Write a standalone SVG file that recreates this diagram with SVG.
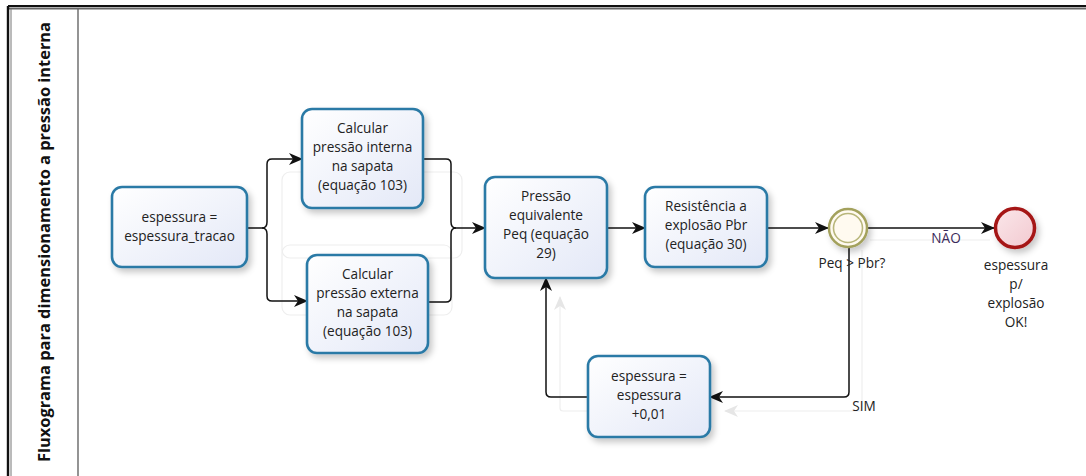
<svg xmlns="http://www.w3.org/2000/svg" width="1086" height="476" viewBox="0 0 1086 476">
  <defs>
    <linearGradient id="taskFill" x1="0" y1="0" x2="1" y2="1">
      <stop offset="0" stop-color="#ffffff"/>
      <stop offset="1" stop-color="#e3e8f7"/>
    </linearGradient>
    <linearGradient id="endFill" x1="0" y1="0" x2="1" y2="1">
      <stop offset="0" stop-color="#fbe7ea"/>
      <stop offset="1" stop-color="#f2c9d0"/>
    </linearGradient>
    <filter id="shadow" x="-20%" y="-20%" width="150%" height="150%">
      <feDropShadow dx="3" dy="4" stdDeviation="3" flood-color="#000" flood-opacity="0.22"/>
    </filter>
    <marker id="arrow" viewBox="0 0 14 12" refX="13" refY="6" markerWidth="14" markerHeight="12" markerUnits="userSpaceOnUse" orient="auto">
      <path d="M0,0 L14,6 L0,12 L4,6 Z" fill="#111"/>
    </marker>
    <marker id="ghostArrow" viewBox="0 0 14 12" refX="13" refY="6" markerWidth="14" markerHeight="12" markerUnits="userSpaceOnUse" orient="auto">
      <path d="M0,0 L14,6 L0,12 L4,6 Z" fill="#e6e6e6"/>
    </marker>
    <style>
      .task rect { fill: url(#taskFill); stroke: #2c7aa6; stroke-width: 2.6; filter: url(#shadow); }
      .lbl { font-family: "Open Sans", "Noto Sans", "DejaVu Sans", sans-serif; font-size: 13.6px; fill: #222; text-anchor: middle; }
      .flow { fill: none; stroke: #111; stroke-width: 1.5; }
      .ghost { fill: none; stroke: #eeeeee; stroke-width: 1.2; }
      .title { font-family: "Open Sans", "Noto Sans", "DejaVu Sans", sans-serif; font-size: 15.5px; font-weight: bold; fill: #111; text-anchor: middle; }
    </style>
  </defs>

  <rect width="1086" height="476" fill="#ffffff"/>

  <!-- pool frame and lane header -->
  <g id="pool">
    <line x1="8" y1="6" x2="1086" y2="6" stroke="#111" stroke-width="2"/>
    <line x1="8" y1="8.5" x2="1086" y2="8.5" stroke="#666" stroke-width="2"/>
    <line x1="8" y1="6" x2="8" y2="476" stroke="#111" stroke-width="2.4"/>
    <line x1="11" y1="9" x2="11" y2="476" stroke="#777" stroke-width="1"/>
    <line x1="78" y1="9" x2="78" y2="476" stroke="#666" stroke-width="1.4"/>
    <text class="title" transform="translate(50,242) rotate(-90)" textLength="440" lengthAdjust="spacingAndGlyphs">Fluxograma para dimensionamento a pressão interna</text>
  </g>

  <!-- faint background outlines -->
  <g id="ghosts">
    <rect x="282" y="172" width="180" height="86" rx="8" class="ghost"/>
    <rect x="282" y="245" width="170" height="70" rx="8" class="ghost"/>
    <path d="M862,250 V408 Q862,411 859,411 H725" class="ghost" marker-end="url(#ghostArrow)"/>
    <path d="M588,411 H563 Q560,411 560,408 V297" class="ghost" marker-end="url(#ghostArrow)"/>
    <line x1="870" y1="240" x2="990" y2="240" class="ghost"/>
  </g>

  <!-- sequence flows -->
  <g id="connectors">
    <path d="M247,228 H262 Q267,228 267,222 V164 Q267,159 272,159 H302" class="flow" marker-end="url(#arrow)"/>
    <path d="M262,228 Q267,228 267,234 V296 Q267,301 272,301 H307" class="flow" marker-end="url(#arrow)"/>
    <path d="M423,159 H446 Q451,159 451,164 V222 Q451,228 456,228 H485" class="flow" marker-end="url(#arrow)"/>
    <path d="M418,302 H446 Q451,302 451,297 V234 Q451,228 456,228" class="flow"/>
    <path d="M607,228 H645" class="flow" marker-end="url(#arrow)"/>
    <path d="M767,228 H828" class="flow" marker-end="url(#arrow)"/>
    <path d="M868,228 H994" class="flow" marker-end="url(#arrow)"/>
    <path d="M849,248 V392 Q849,397 844,397 H710" class="flow" marker-end="url(#arrow)"/>
    <path d="M588,397 H551 Q546,397 546,392 V278" class="flow" marker-end="url(#arrow)"/>
    <text class="lbl" x="946" y="243" style="fill:#3a2a5a">NÃO</text>
    <text class="lbl" x="864" y="411">SIM</text>
  </g>

  <g id="start-thickness" class="task">
    <rect x="112" y="187" width="135" height="80" rx="10"/>
    <text class="lbl" x="179.5" y="222">espessura =</text>
    <text class="lbl" x="179.5" y="241">espessura_tracao</text>
  </g>

  <g id="internal-pressure" class="task">
    <rect x="302" y="109" width="121" height="99" rx="10"/>
    <text class="lbl" x="362.5" y="133">Calcular</text>
    <text class="lbl" x="362.5" y="152">pressão interna</text>
    <text class="lbl" x="362.5" y="171">na sapata</text>
    <text class="lbl" x="362.5" y="190">(equação 103)</text>
  </g>

  <g id="external-pressure" class="task">
    <rect x="307" y="255" width="121" height="98" rx="10"/>
    <text class="lbl" x="367.5" y="279">Calcular</text>
    <text class="lbl" x="367.5" y="298">pressão externa</text>
    <text class="lbl" x="367.5" y="317">na sapata</text>
    <text class="lbl" x="367.5" y="336">(equação 103)</text>
  </g>

  <g id="equivalent-pressure" class="task">
    <rect x="485" y="177" width="122" height="101" rx="10"/>
    <text class="lbl" x="546" y="201">Pressão</text>
    <text class="lbl" x="546" y="220">equivalente</text>
    <text class="lbl" x="546" y="239">Peq (equação</text>
    <text class="lbl" x="546" y="258">29)</text>
  </g>

  <g id="burst-resistance" class="task">
    <rect x="645" y="187" width="122" height="80" rx="10"/>
    <text class="lbl" x="706" y="211">Resistência a</text>
    <text class="lbl" x="706" y="230">explosão Pbr</text>
    <text class="lbl" x="706" y="249">(equação 30)</text>
  </g>

  <g id="increment-thickness" class="task">
    <rect x="588" y="356" width="122" height="81" rx="10"/>
    <text class="lbl" x="649" y="381">espessura =</text>
    <text class="lbl" x="649" y="400">espessura</text>
    <text class="lbl" x="649" y="419">+0,01</text>
  </g>

  <g id="check-gateway">
    <circle cx="848" cy="228" r="19" fill="#fffaf0" stroke="#a3a15c" stroke-width="2.5" filter="url(#shadow)"/>
    <circle cx="848" cy="228" r="14.5" fill="none" stroke="#b8b67a" stroke-width="1.6"/>
    <text class="lbl" x="852" y="268">Peq &gt;  Pbr?</text>
  </g>

  <g id="end-ok">
    <circle cx="1015" cy="228" r="19.5" fill="url(#endFill)" stroke="#a51515" stroke-width="3.5" filter="url(#shadow)"/>
    <text class="lbl" x="1016" y="270">espessura</text>
    <text class="lbl" x="1016" y="289">p/</text>
    <text class="lbl" x="1016" y="308">explosão</text>
    <text class="lbl" x="1016" y="327">OK!</text>
  </g>
</svg>
